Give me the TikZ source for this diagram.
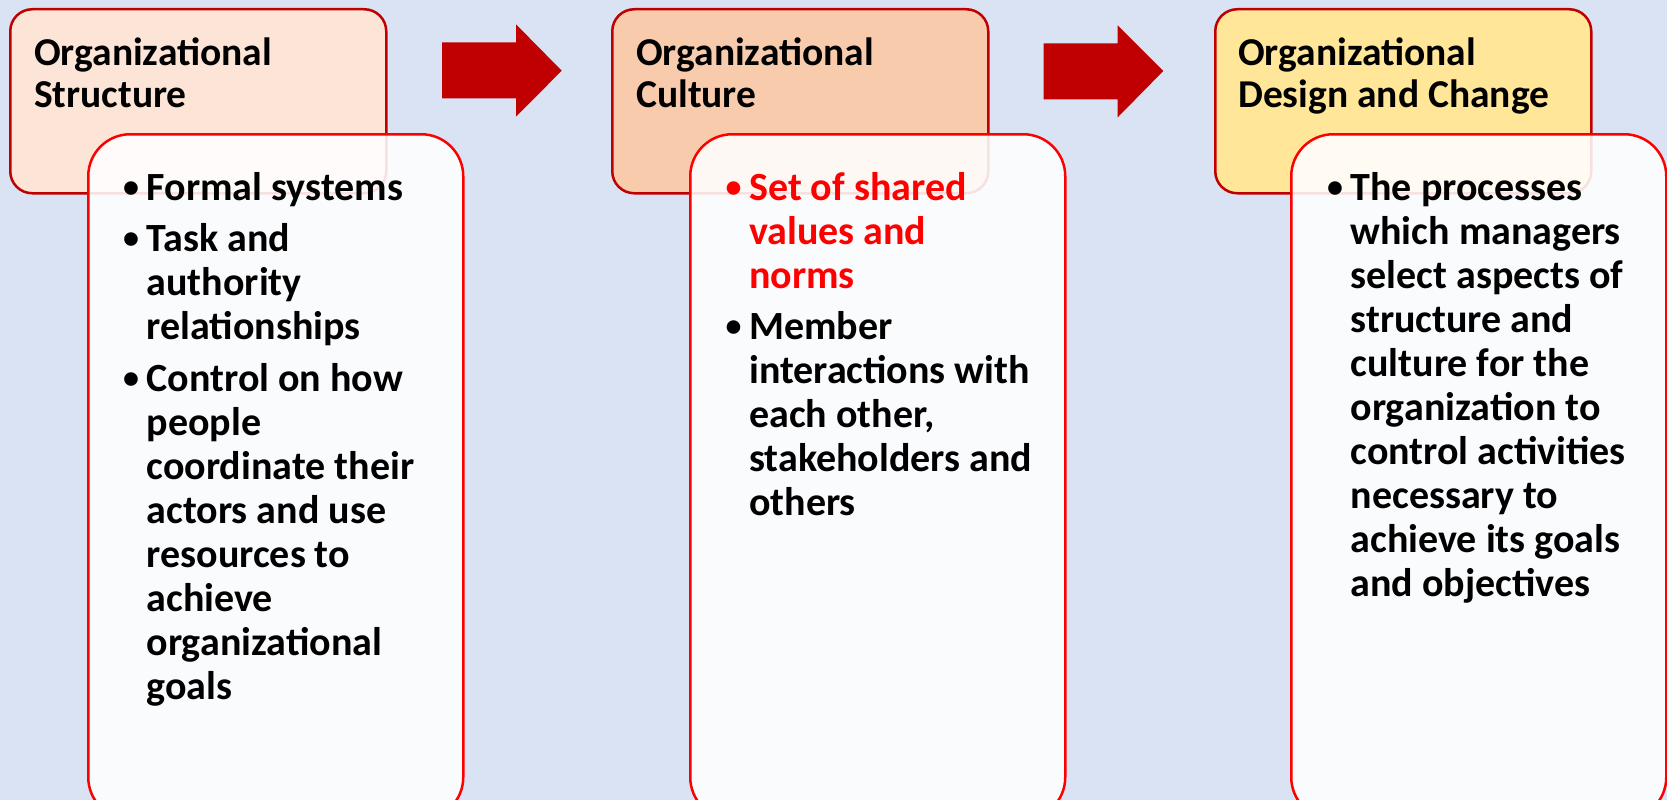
\documentclass[tikz,border=0pt]{standalone}
\usepackage{fontspec}
\setmainfont{Carlito}
\definecolor{bgblue}{HTML}{DAE3F3}
\definecolor{hdred}{HTML}{C00000}
\definecolor{hone}{HTML}{FCE4D6}
\definecolor{htwo}{HTML}{F8CBAD}
\definecolor{hthree}{HTML}{FFE699}
\definecolor{brightred}{HTML}{FF0000}
\newcommand\bul{\makebox[22.5pt][l]{\hspace*{-1pt}\raisebox{2.5pt}{\fontsize{32}{44}\selectfont\textbullet}}}
\newcommand\ind{\hspace*{22.5pt}}
\newcommand\blk[1]{\parbox[t]{420pt}{\raggedright #1}}
\begin{document}
\begin{tikzpicture}[x=1pt,y=-1pt]
\tikzset{
  headbox/.style={draw=hdred, line width=2.5pt, rounded corners=22pt, minimum width=376pt, minimum height=184pt, anchor=north west, inner sep=0pt},
  bodybox/.style={draw=brightred, line width=2.5pt, rounded corners=42pt, fill=white, fill opacity=0.88, minimum width=375pt, minimum height=685pt, anchor=north west, inner sep=0pt},
  txt/.style={font=\fontsize{40}{44}\selectfont\bfseries, anchor=base west, inner sep=0pt},
  headtxt/.style={font=\fontsize{39.5}{42.5}\selectfont\bfseries, anchor=base west, inner sep=0pt},
  arrowfill/.style={fill=hdred}
}
\useasboundingbox (0,0) rectangle (1667,800);
\fill[bgblue] (0,0) rectangle (1667,800);
\clip (0,0) rectangle (1667,800);
% header boxes
\node[headbox, fill=hone] (h1) at (9,8) {};
\node[headbox, fill=htwo] (h2) at (611,8) {};
\node[headbox, fill=hthree] (h3) at (1214,8) {};
% header texts
\node[headtxt] (ht1) at (34,65.5) {\blk{Organizational\\Structure}};
\node[headtxt] (ht2) at (636,65.5) {\blk{Organizational\\Culture}};
\node[headtxt] (ht3) at (1238,65.5) {\blk{Organizational\\Design and Change}};
% arrows
\fill[arrowfill] (442,42.3) -- (516,42.3) -- (516,24.3) -- (561.7,70.7) -- (516,116.7) -- (516,98.3) -- (442,98.3) -- cycle;
\fill[arrowfill] (1043.7,43.3) -- (1117.7,43.3) -- (1117.7,25.3) -- (1163.3,71) -- (1117.7,117.3) -- (1117.7,99.3) -- (1043.7,99.3) -- cycle;
% body boxes
\node[bodybox] (w1) at (87,133) {};
\node[bodybox] (w2) at (689,133) {};
\node[bodybox] (w3) at (1290,133) {};
% body texts
\node[txt] (bt1) at (124,200) {\blk{\bul Formal systems\\[7pt]
\bul Task and\\ \ind authority\\ \ind relationships\\[8pt]
\bul Control on how\\ \ind people\\ \ind coordinate their\\ \ind actors and use\\ \ind resources to\\ \ind achieve\\ \ind organizational\\ \ind goals}};
\node[txt] (bt2) at (726.5,200) {\blk{\textcolor{brightred}{\bul Set of shared}\\ \ind\textcolor{brightred}{values and}\\ \ind\textcolor{brightred}{norms}\\[7pt]
\bul Member\\ \ind interactions with\\ \ind each other,\\ \ind stakeholders and\\ \ind others}};
\node[txt] (bt3) at (1328,200) {\blk{\bul The processes\\ \ind which managers\\ \ind select aspects of\\ \ind structure and\\ \ind culture for the\\ \ind organization to\\ \ind control activities\\ \ind necessary to\\ \ind achieve its goals\\ \ind and objectives}};
\end{tikzpicture}
\end{document}
